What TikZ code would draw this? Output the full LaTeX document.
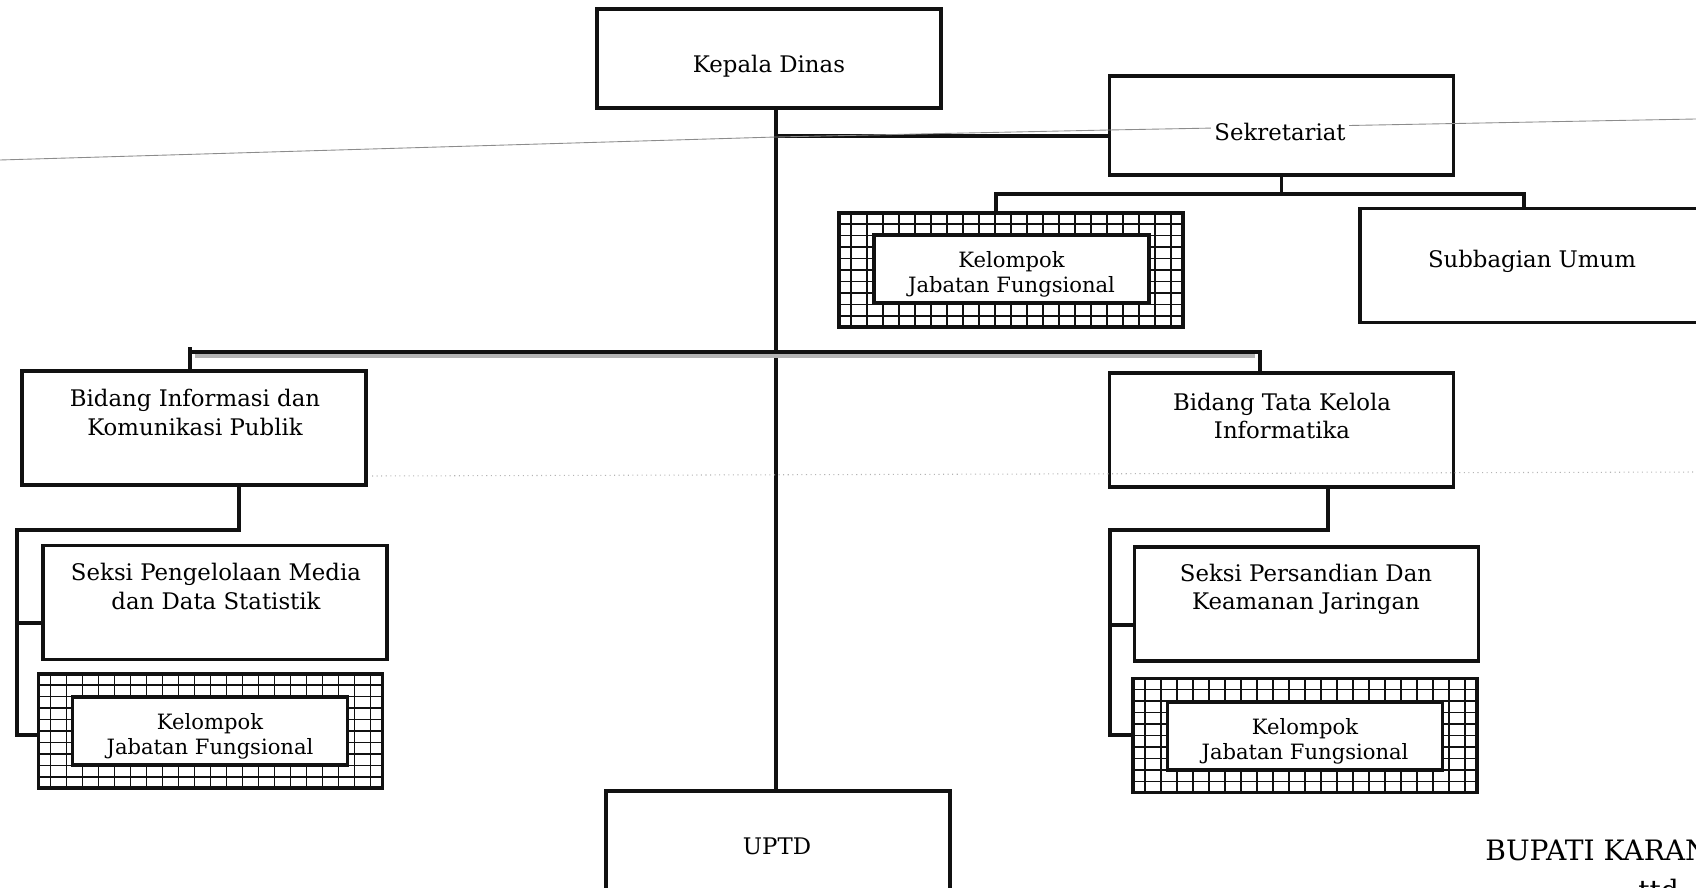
\documentclass[tikz,border=0pt]{standalone}
\usepackage{fontspec}
\setmainfont{DejaVu Serif}
\usepackage{xcolor}
\definecolor{Ink}{HTML}{111111}
\definecolor{Fold}{HTML}{8C8C8C}
\definecolor{Halftone}{HTML}{B4B4B4}
\usepackage{tikz}
\usetikzlibrary{positioning}

\begin{document}
\begin{tikzpicture}[
  x=0.02cm, y=-0.02cm,
  box/.style={draw=Ink,fill=white,line width=2pt,minimum width=6.88cm,minimum height=2.28cm,inner sep=0pt},
  headbox/.style={box,minimum height=1.98cm},
  gridbox/.style={box,path picture={\draw[Ink,line width=1.1pt,xstep=0.32cm,ystep=0.23cm] (path picture bounding box.south west) grid (path picture bounding box.north east);}},
  innerbox/.style={draw=Ink,fill=white,line width=2pt,minimum width=5.5cm,minimum height=1.36cm,inner sep=0pt,align=center,font=\fontsize{12}{14.5}\selectfont},
  boxtext/.style={fill=white,inner sep=2pt,align=center,font=\fontsize{13}{16}\selectfont},
  signtext/.style={inner sep=0pt,font=\fontsize{16}{19}\selectfont},
  link/.style={draw=Ink,line width=2pt},
  halftone/.style={draw=Halftone,line width=2.6pt},
  fold/.style={draw=Fold,line width=0.5pt}
]
  \useasboundingbox (0,0) rectangle (1696,888);

  \node[headbox] (kepala) at (769,58.5) {};
  \node[headbox] (sekret) at (1281.5,125.5) {};
  \node[box] (subumum) at (1532,265.5) {};
  \node[gridbox] (kjfsek) at (1011,270) {};
  \node[innerbox] (kjfsekin) at (1011.5,269) {\rule{0pt}{15pt}Kelompok\\Jabatan Fungsional};

  \node[box] (bidinfo) at (194,428) {};
  \node[box] (bidtata) at (1281.5,430) {};
  \node[box] (seksimedia) at (215,602.5) {};
  \node[box] (seksisandi) at (1306.5,604) {};
  \node[gridbox] (kjfinfo) at (210.5,731) {};
  \node[innerbox] (kjfinfoin) at (210,731) {\rule{0pt}{15pt}Kelompok\\Jabatan Fungsional};
  \node[gridbox] (kjftata) at (1305,735.5) {};
  \node[innerbox] (kjftatain) at (1305,736) {\rule{0pt}{15pt}Kelompok\\Jabatan Fungsional};
  \node[box] (uptd) at (778,848) {};

  \coordinate (trunk) at (776,136);
  \draw[link] (trunk |- kepala.south) -- (trunk |- uptd.north);
  \draw[link] (trunk) -- (trunk -| sekret.west);

  \coordinate (sekbusl) at (996,194);
  \coordinate (sekbusr) at (1524,194);
  \draw[link] (sekret.south) -- (sekret.south |- sekbusl);
  \draw[link] (sekbusl |- kjfsek.north) -- (sekbusl) -- (sekbusr) -- (sekbusr |- subumum.north);

  \coordinate (busl) at (190,352);
  \coordinate (busr) at (1260,352);
  \draw[halftone] ([xshift=0.1cm,yshift=-0.075cm]busl) -- ([xshift=-0.1cm,yshift=-0.075cm]busr);
  \draw[link] (busl |- bidinfo.north) -- ([yshift=0.1cm]busl) (busl) -- (busr) -- (busr |- bidtata.north);

  \coordinate (infodrop) at (239,530);
  \coordinate (infospine) at (17,530);
  \coordinate (infobr1) at (17,623);
  \coordinate (infobr2) at (17,735);
  \draw[link] (infodrop |- bidinfo.south) -- (infodrop) -- (infospine) -- (infobr2) -- (infobr2 -| kjfinfo.west);
  \draw[link] (infobr1) -- (infobr1 -| seksimedia.west);

  \coordinate (tatadrop) at (1328,530);
  \coordinate (tataspine) at (1110,530);
  \coordinate (tatabr1) at (1110,625);
  \coordinate (tatabr2) at (1110,735);
  \draw[link] (tatadrop |- bidtata.south) -- (tatadrop) -- (tataspine) -- (tatabr2) -- (tatabr2 -| kjftata.west);
  \draw[link] (tatabr1) -- (tatabr1 -| seksisandi.west);

  \draw[fold] (0,160) -- (776,137) -- (1109,130) -- (1696,119);
  \draw[Halftone,dotted,line width=0.6pt] (372,476) -- (1696,472);

  \node[boxtext] (kepalatxt) at (769,66) {Kepala Dinas};
  \node[boxtext] (sekrettxt) at (1280,132) {Sekretariat};
  \node[boxtext] (subumumtxt) at (1532,261) {Subbagian Umum};
  \node[boxtext] (bidinfotxt) at (195,412.5) {Bidang Informasi dan\\Komunikasi Publik};
  \node[boxtext] (bidtatatxt) at (1282,416) {Bidang Tata Kelola\\Informatika};
  \node[boxtext] (seksimediatxt) at (216,586.5) {Seksi Pengelolaan Media\\dan Data Statistik};
  \node[boxtext] (seksisanditxt) at (1306,589) {Seksi Persandian Dan\\Keamanan Jaringan};
  \node[boxtext] (uptdtxt) at (777,846) {UPTD};
  \node[signtext,anchor=base west] (bupati) at (1485,860) {BUPATI KARAN};
  \node[signtext,anchor=base west] (ttd) at (1638,900) {ttd};
\end{tikzpicture}
\end{document}
